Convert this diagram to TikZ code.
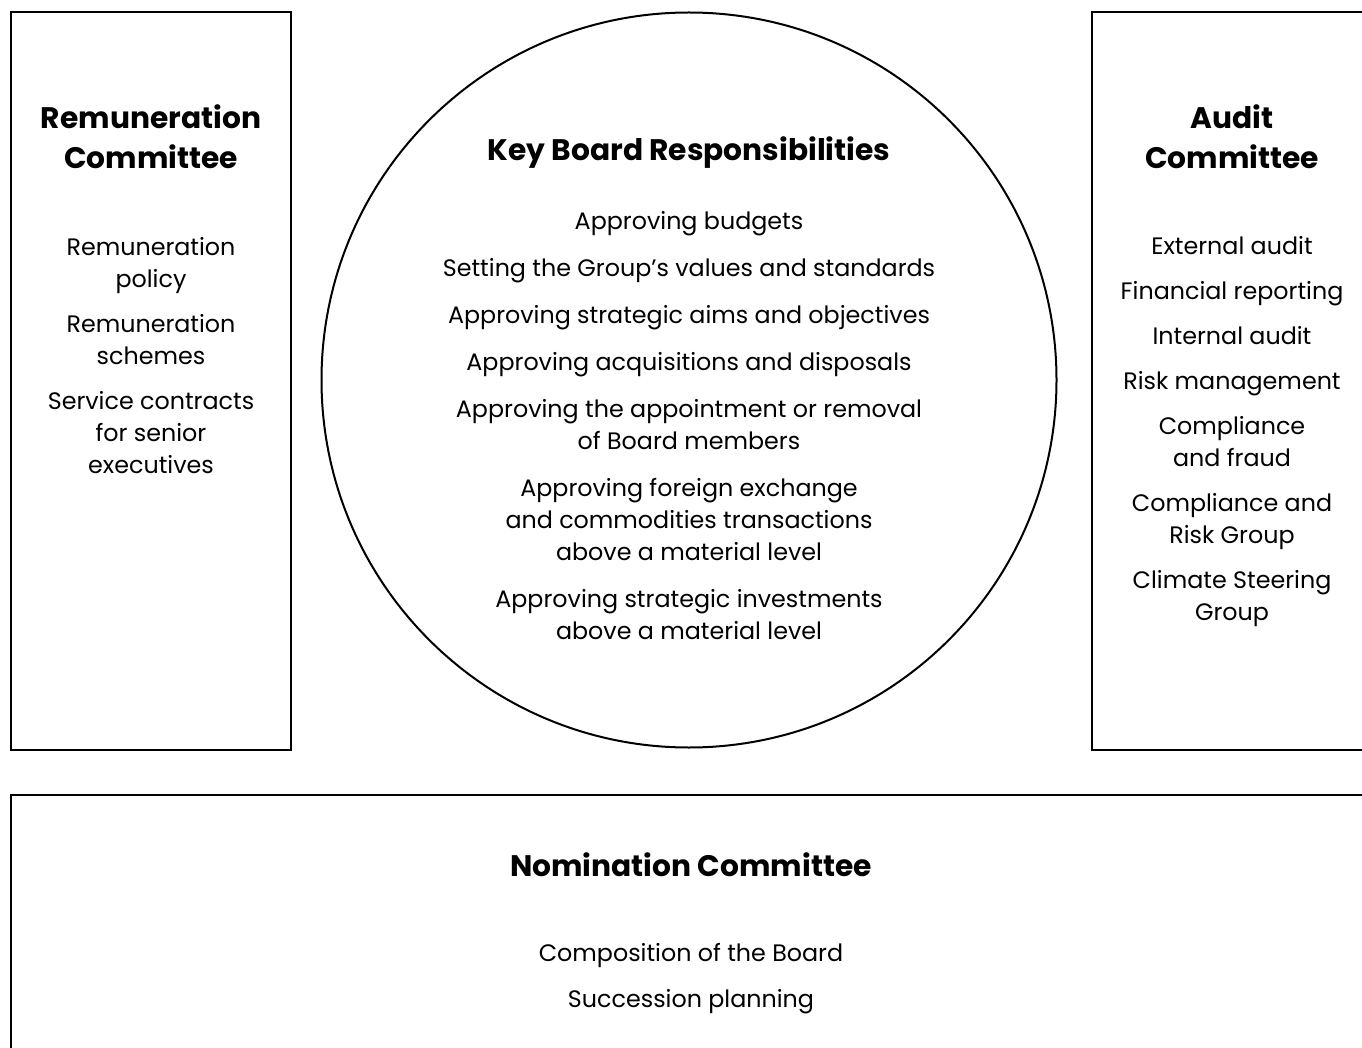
\documentclass[tikz,border=0pt]{standalone}
\usepackage{fontspec}
\setmainfont{Poppins}
\usetikzlibrary{positioning}

\begin{document}
\begin{tikzpicture}[x=1pt, y=-1pt, node distance = 2cm, on grid,
    panel/.style={rectangle, draw=black, line width=2.8pt, minimum width=280pt, minimum height=738pt, inner sep=0pt},
    heading/.style={align=center, inner sep=0pt, font=\bfseries\fontsize{29.7}{40}\selectfont},
    duties/.style={align=center, inner sep=0pt, font=\fontsize{23.8}{32}\selectfont}]
  \useasboundingbox (0,0) rectangle (1362,1048);
  \clip (0,0) rectangle (1362,1048);

  % the three committees round the board
  \node [panel] (remBox) at (151,381) {};
  \node [panel] (audBox) at (1232,381) {};
  \node [panel, minimum width=1360pt, minimum height=300pt] (nomBox) at (691,945) {};
  \node [circle, draw=black, line width=2pt, minimum size=735pt, inner sep=0pt] (board) at (689,380) {};

  \node [heading] (remTitle) [below =94pt of remBox.north] {Remuneration\\Committee};
  \node [duties] (remList) [below =219pt of remTitle] {Remuneration\\policy\\[13pt]
    Remuneration\\schemes\\[13pt]
    Service contracts\\for senior\\executives};

  \node [heading] (boardTitle) [below =125pt of board.north] {Key Board Responsibilities};
  \node [duties] (boardList) [below =273pt of boardTitle] {Approving budgets\\[15pt]
    Setting the Group’s values and standards\\[15pt]
    Approving strategic aims and objectives\\[15pt]
    Approving acquisitions and disposals\\[15pt]
    Approving the appointment or removal\\of Board members\\[15pt]
    Approving foreign exchange\\and commodities transactions\\above a material level\\[15pt]
    Approving strategic investments\\above a material level};

  \node [heading] (audTitle) [below =94pt of audBox.north] {Audit\\Committee};
  \node [duties] (audList) [below =295pt of audTitle] {External audit\\[13pt]
    Financial reporting\\[13pt]
    Internal audit\\[13pt]
    Risk management\\[13pt]
    Compliance\\and fraud\\[13pt]
    Compliance and\\Risk Group\\[13pt]
    Climate Steering\\Group};

  \node [heading] (nomTitle) [below =59pt of nomBox.north] {Nomination Committee};
  \node [duties] (nomList) [below =114pt of nomTitle] {Composition of the Board\\[14pt]
    Succession planning};
\end{tikzpicture}
\end{document}
